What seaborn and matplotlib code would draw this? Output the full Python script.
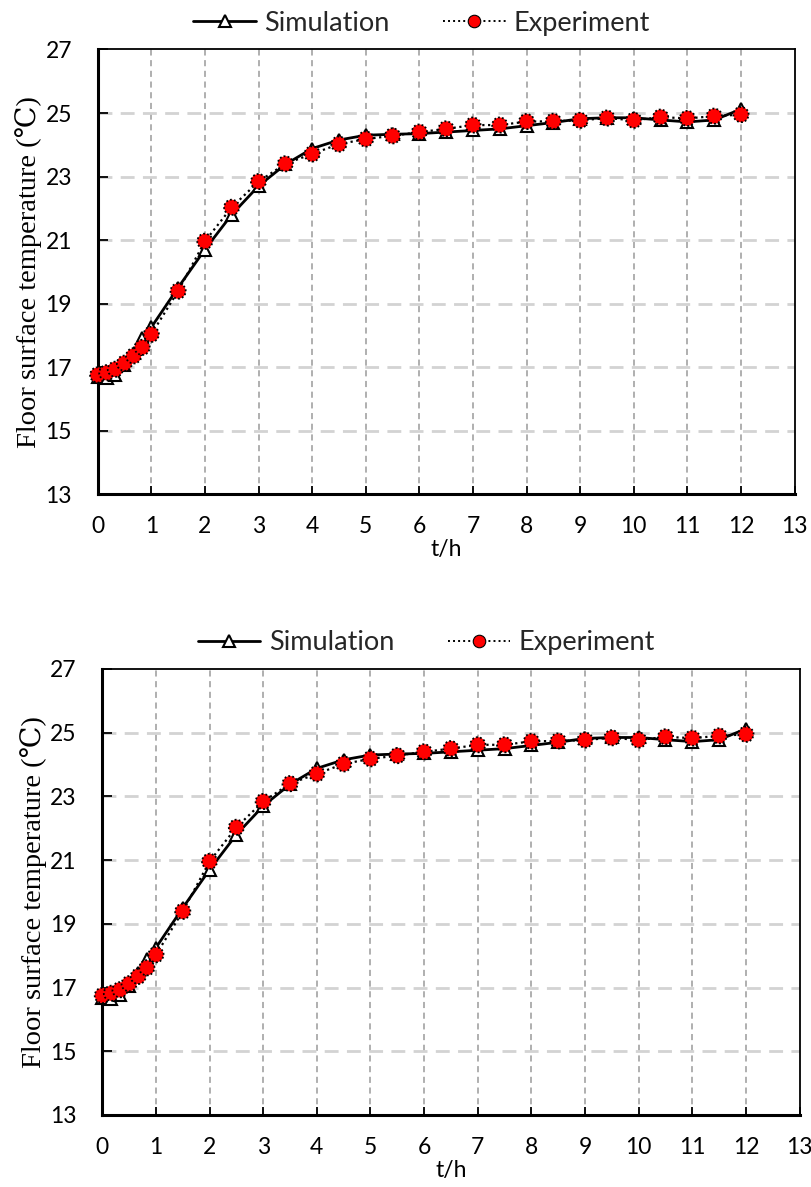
import matplotlib
matplotlib.use("Agg")
import matplotlib.pyplot as plt
from matplotlib.lines import Line2D
import seaborn as sns
import pandas as pd

# Time (h) and floor surface temperatures (°C)
t_hours = [0, 0.17, 0.33, 0.5, 0.67, 0.83, 1, 1.5, 2, 2.5, 3, 3.5, 4, 4.5, 5,
           5.5, 6, 6.5, 7, 7.5, 8, 8.5, 9, 9.5, 10, 10.5, 11, 11.5, 12]
simulation = [16.68, 16.65, 16.75, 17.05, 17.45, 17.90, 18.25, 19.50, 20.70,
              21.80, 22.70, 23.38, 23.88, 24.15, 24.30, 24.33, 24.35, 24.40,
              24.45, 24.50, 24.60, 24.70, 24.82, 24.85, 24.85, 24.78, 24.72,
              24.78, 25.12]
experiment = [16.75, 16.82, 16.93, 17.12, 17.35, 17.62, 18.03, 19.39, 20.96,
              22.03, 22.84, 23.40, 23.71, 24.02, 24.18, 24.28, 24.40, 24.50,
              24.62, 24.62, 24.73, 24.74, 24.77, 24.84, 24.77, 24.87, 24.83,
              24.90, 24.95]
x_ticks = list(range(0, 14))
y_ticks = [13, 15, 17, 19, 21, 23, 25, 27]

df = pd.DataFrame({"t": t_hours, "sim": simulation, "exp": experiment})

sns.set_theme(style="white")
plt.rcParams["font.family"] = ["Lato", "DejaVu Sans"]

fig = plt.figure(figsize=(8.12, 11.87), dpi=100)
panels = [
    [0.1203, 0.5838, 0.8583, 0.3745],
    [0.1260, 0.0607, 0.8587, 0.3757],
]


def draw_panel(ax):
    # grid: short dark dashes vertically, long light dashes horizontally
    for x in x_ticks[1:-1]:
        ax.axvline(x, color="#9a9a9a", lw=1.1, ls=(0, (4, 3)), zorder=0.5)
    for y in y_ticks[1:-1]:
        ax.axhline(y, color="#d3d3d3", lw=2.0, ls=(0, (5, 3)), zorder=0.5)

    sns.lineplot(data=df, x="t", y="sim", ax=ax, color="black", lw=2.0,
                 marker="^", markersize=9, markerfacecolor="white",
                 markeredgecolor="black", markeredgewidth=1.5,
                 clip_on=False, zorder=3, legend=False)
    sns.lineplot(data=df, x="t", y="exp", ax=ax, color="black", lw=1.6,
                 ls=(0, (1, 1.6)), clip_on=False, zorder=4, legend=False)
    sns.scatterplot(data=df, x="t", y="exp", ax=ax, s=120, color="#ff0000",
                    edgecolor="black", linewidth=1.3, linestyle=(0, (1, 1.2)),
                    clip_on=False, zorder=5, legend=False)

    ax.set_xlim(0, 13)
    ax.set_ylim(13, 27)
    ax.set_xticks(x_ticks)
    ax.set_yticks(y_ticks)
    ax.tick_params(axis="x", direction="in", length=6, width=1.3,
                   color="black", pad=16, labelsize=16.5, labelcolor="black",
                   bottom=True)
    ax.tick_params(axis="y", direction="in", length=7, width=1.3,
                   color="black", pad=18.5, labelsize=16.5, labelcolor="black",
                   left=True)
    for side in ["left", "bottom"]:
        ax.spines[side].set_linewidth(2.2)
        ax.spines[side].set_color("black")
    for side in ["top", "right"]:
        ax.spines[side].set_linewidth(1.3)
        ax.spines[side].set_color("black")

    ax.set_xlabel("t/h", fontsize=16.5, labelpad=1, color="black")
    ax.set_ylabel("Floor surface temperature (\u2103)", fontsize=20.5,
                  family=["Liberation Serif", "DejaVu Serif"], labelpad=2.5,
                  color="black")

    handles = [
        Line2D([], [], color="black", lw=2.0, marker="^", markersize=9,
               markerfacecolor="white", markeredgecolor="black",
               markeredgewidth=1.5),
        Line2D([], [], color="black", lw=1.4, ls=(0, (1, 1.6)), marker="o",
               markersize=9, markerfacecolor="#ff0000",
               markeredgecolor="black", markeredgewidth=0.8),
    ]
    ax.legend(handles, ["Simulation", "Experiment"], loc="lower center",
              bbox_to_anchor=(0.465, 1.0), ncol=2, frameon=False,
              fontsize=19.5, handlelength=2.3, columnspacing=2.0,
              handletextpad=0.3, borderaxespad=0.1)


for rect in panels:
    ax = fig.add_axes(rect)
    draw_panel(ax)

fig.savefig("out.png", dpi=100)
